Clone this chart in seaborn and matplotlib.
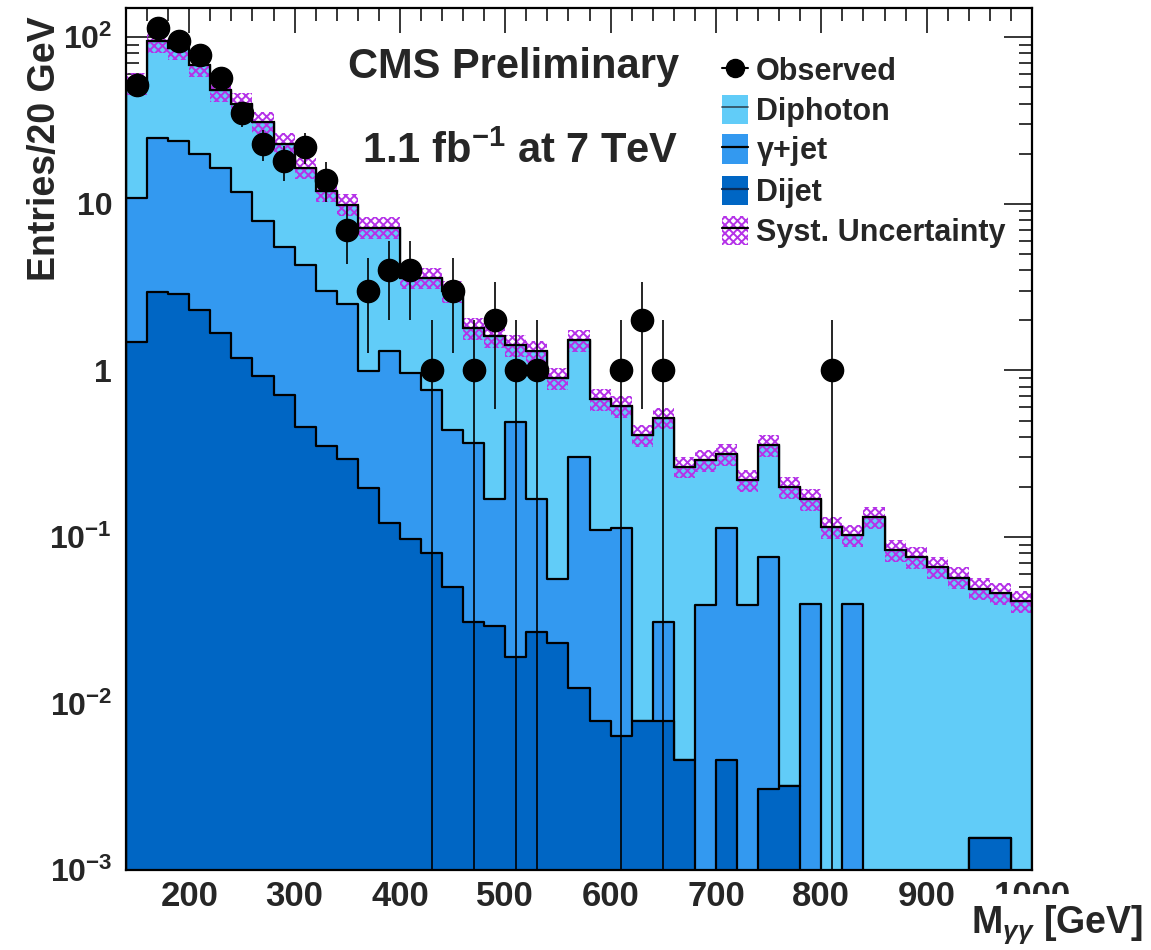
import matplotlib
matplotlib.use("Agg")
import matplotlib.pyplot as plt
import matplotlib.ticker as mticker
from matplotlib.lines import Line2D
from matplotlib.patches import Patch
import numpy as np
import pandas as pd
import seaborn as sns

sns.set_style("ticks")
plt.rcParams["font.family"] = ["Liberation Sans", "DejaVu Sans"]
plt.rcParams["font.weight"] = "bold"
plt.rcParams["mathtext.fontset"] = "custom"
plt.rcParams["mathtext.rm"] = "Liberation Sans"
plt.rcParams["mathtext.it"] = "Liberation Sans:italic"
plt.rcParams["mathtext.bf"] = "Liberation Sans:bold"
plt.rcParams["hatch.linewidth"] = 1.4

# 20 GeV bins from 140 to 1000 GeV
edges = np.arange(140, 1001, 20)
centers = edges[:-1] + 10

# stack levels (top of each stacked layer)
total = np.array([53, 95, 86, 68, 48, 40, 31, 23, 16.5, 12,
                  9.9, 7.2, 7.2, 3.6, 3.6, 3.0, 1.8, 1.6, 1.42, 1.30,
                  0.90, 1.52, 0.67, 0.61, 0.41, 0.52, 0.264, 0.29, 0.315, 0.22,
                  0.357, 0.20, 0.169, 0.115, 0.103, 0.132, 0.0836, 0.076, 0.066, 0.057,
                  0.049, 0.046, 0.041])
gjet_stack = np.array([10.9, 24.9, 23.7, 20, 16.5, 11.7, 7.9, 5.5, 4.3, 3.0,
                       2.5, 0.99, 1.30, 0.96, 0.76, 0.44, 0.366, 0.168, 0.49, 0.168,
                       0.0557, 0.303, 0.110, 0.113, 0.0079, 0.031, 0.00458, 0.039, 0.113, 0.039,
                       0.0755, 0.0032, 0.0396, 0, 0.0396, 0, 0, 0, 0, 0,
                       0.00155, 0.00155, 0])
dijet = np.array([1.49, 2.97, 2.88, 2.31, 1.67, 1.18, 0.92, 0.71, 0.46, 0.353,
                  0.294, 0.196, 0.122, 0.097, 0.0805, 0.050, 0.031, 0.0293, 0.0191, 0.0268,
                  0.0232, 0.0123, 0.00789, 0.00638, 0.0079, 0.0079, 0.00458, 0, 0.00455, 0,
                  0.00305, 0.0032, 0, 0, 0, 0, 0, 0, 0, 0,
                  0.00155, 0.00155, 0])
observed = np.array([52, 114, 95, 78, 57, 35, 23, 18, 22, 14,
                     7, 3, 4, 4, 1, 3, 1, 2, 1, 1,
                     0, 0, 0, 1, 2, 1, 0, 0, 0, 0,
                     0, 0, 0, 1, 0, 0, 0, 0, 0, 0,
                     0, 0, 0])
SYST = 0.15  # relative systematic band

ytick_vals = [1e-3, 1e-2, 1e-1, 1, 10, 100]
ytick_labels = [r"$\mathbf{10^{-3}}$", r"$\mathbf{10^{-2}}$", r"$\mathbf{10^{-1}}$",
                "1", "10", r"$\mathbf{10^{2}}$"]

C_DIPHOTON = "#61ccf8"
C_GJET = "#3399f0"
C_DIJET = "#0066c4"
C_SYST = "#b533e8"
C_DIPH_LINE = "#2f4a5a"

fig = plt.figure(figsize=(11.51, 9.5), dpi=100)
ax = fig.add_axes([0.1095, 0.0842, 0.7871, 0.9074])

layers = [(total, C_DIPHOTON, C_DIPH_LINE, 1.0),
          (gjet_stack, C_GJET, "k", 1.6),
          (dijet, C_DIJET, "k", 1.6)]
for vals, col, ec, lw in layers:
    df = pd.DataFrame({"mass": centers, "w": vals})
    sns.histplot(data=df, x="mass", weights="w", bins=edges.tolist(), element="step",
                 fill=True, color=col, alpha=1, edgecolor=ec, linewidth=lw, ax=ax)

ax.stairs(total * (1 + SYST), edges, baseline=total * (1 - SYST), fill=True,
          facecolor="none", edgecolor=C_SYST, hatch="xxxx", linewidth=0, zorder=3)
ax.stairs(total, edges, color="k", linewidth=1.6, zorder=3.5)

mask = observed > 0
ax.errorbar(centers[mask], observed[mask], yerr=np.sqrt(observed[mask]), fmt="o",
            color="k", ms=16, elinewidth=1.2, capsize=0, zorder=6)

ax.set_yscale("log")
ax.set_xlim(140, 1000)
ax.set_ylim(1e-3, 150)
ax.set_xlabel("")
ax.set_ylabel("")

ax.xaxis.set_major_locator(mticker.MultipleLocator(100))
ax.xaxis.set_minor_locator(mticker.MultipleLocator(20))
ax.yaxis.set_major_locator(mticker.FixedLocator(ytick_vals))
ax.yaxis.set_major_formatter(mticker.FixedFormatter(ytick_labels))
ax.yaxis.set_minor_locator(mticker.LogLocator(base=10, subs=np.arange(2, 10)))
ax.yaxis.set_minor_formatter(mticker.NullFormatter())

ax.tick_params(axis="x", which="major", direction="in", length=18, width=1.1,
               labelsize=25, pad=7, top=True, color="k")
ax.tick_params(axis="x", which="minor", direction="in", length=9, width=1.1, top=True, color="k")
ax.tick_params(axis="y", which="major", direction="in", length=20, width=1.1,
               labelsize=23, pad=10, right=True, color="k")
ax.tick_params(axis="y", which="minor", direction="in", length=9.5, width=1.1, right=True, color="k")
for s in ax.spines.values():
    s.set_linewidth(1.6)
    s.set_color("k")
    s.set_zorder(10)

fig.text(348 / 1151, (950 - 78) / 950, "CMS Preliminary", fontsize=30,
         ha="left", va="baseline")
fig.text(362 / 1151, (950 - 163) / 950, r"1.1 fb$^{\mathbf{-1}}$ at 7 TeV", fontsize=30,
         ha="left", va="baseline")
fig.text(27 / 1151, (950 - 16) / 950, "Entries/20 GeV", fontsize=27, rotation=90,
         ha="left", va="top")
# the axis title box hides the lower part of the "1000" label, as in the original
fig.text(1143 / 1151, (950 - 933) / 950, r"M$_{\gamma\gamma}$ [GeV]", fontsize=27,
         ha="right", va="baseline",
         bbox=dict(facecolor="white", edgecolor="none", pad=7))

handles = [
    Line2D([], [], color="k", marker="o", ms=13, lw=1.5),
    (Patch(facecolor=C_DIPHOTON, edgecolor="none"), Line2D([], [], color=C_DIPH_LINE, lw=1.2)),
    (Patch(facecolor=C_GJET, edgecolor="none"), Line2D([], [], color="k", lw=1.6)),
    (Patch(facecolor=C_DIJET, edgecolor="none"), Line2D([], [], color="#0b2d57", lw=1.6)),
    (Patch(facecolor="none", edgecolor=C_SYST, hatch="xxxx", lw=0), Line2D([], [], color="k", lw=1.6)),
]
labels = ["Observed", "Diphoton", r"$\mathrm{\gamma}$+jet", "Dijet", "Syst. Uncertainty"]
ax.legend(handles, labels, loc="upper left", bbox_to_anchor=(722 / 1151, (950 - 55) / 950),
          bbox_transform=fig.transFigure, frameon=False,
          prop={"size": 22, "weight": "bold"}, handlelength=0.85, handleheight=1.1,
          handletextpad=0.25, labelspacing=0.25, borderpad=0, borderaxespad=0)

fig.savefig("out.png", dpi=100)
